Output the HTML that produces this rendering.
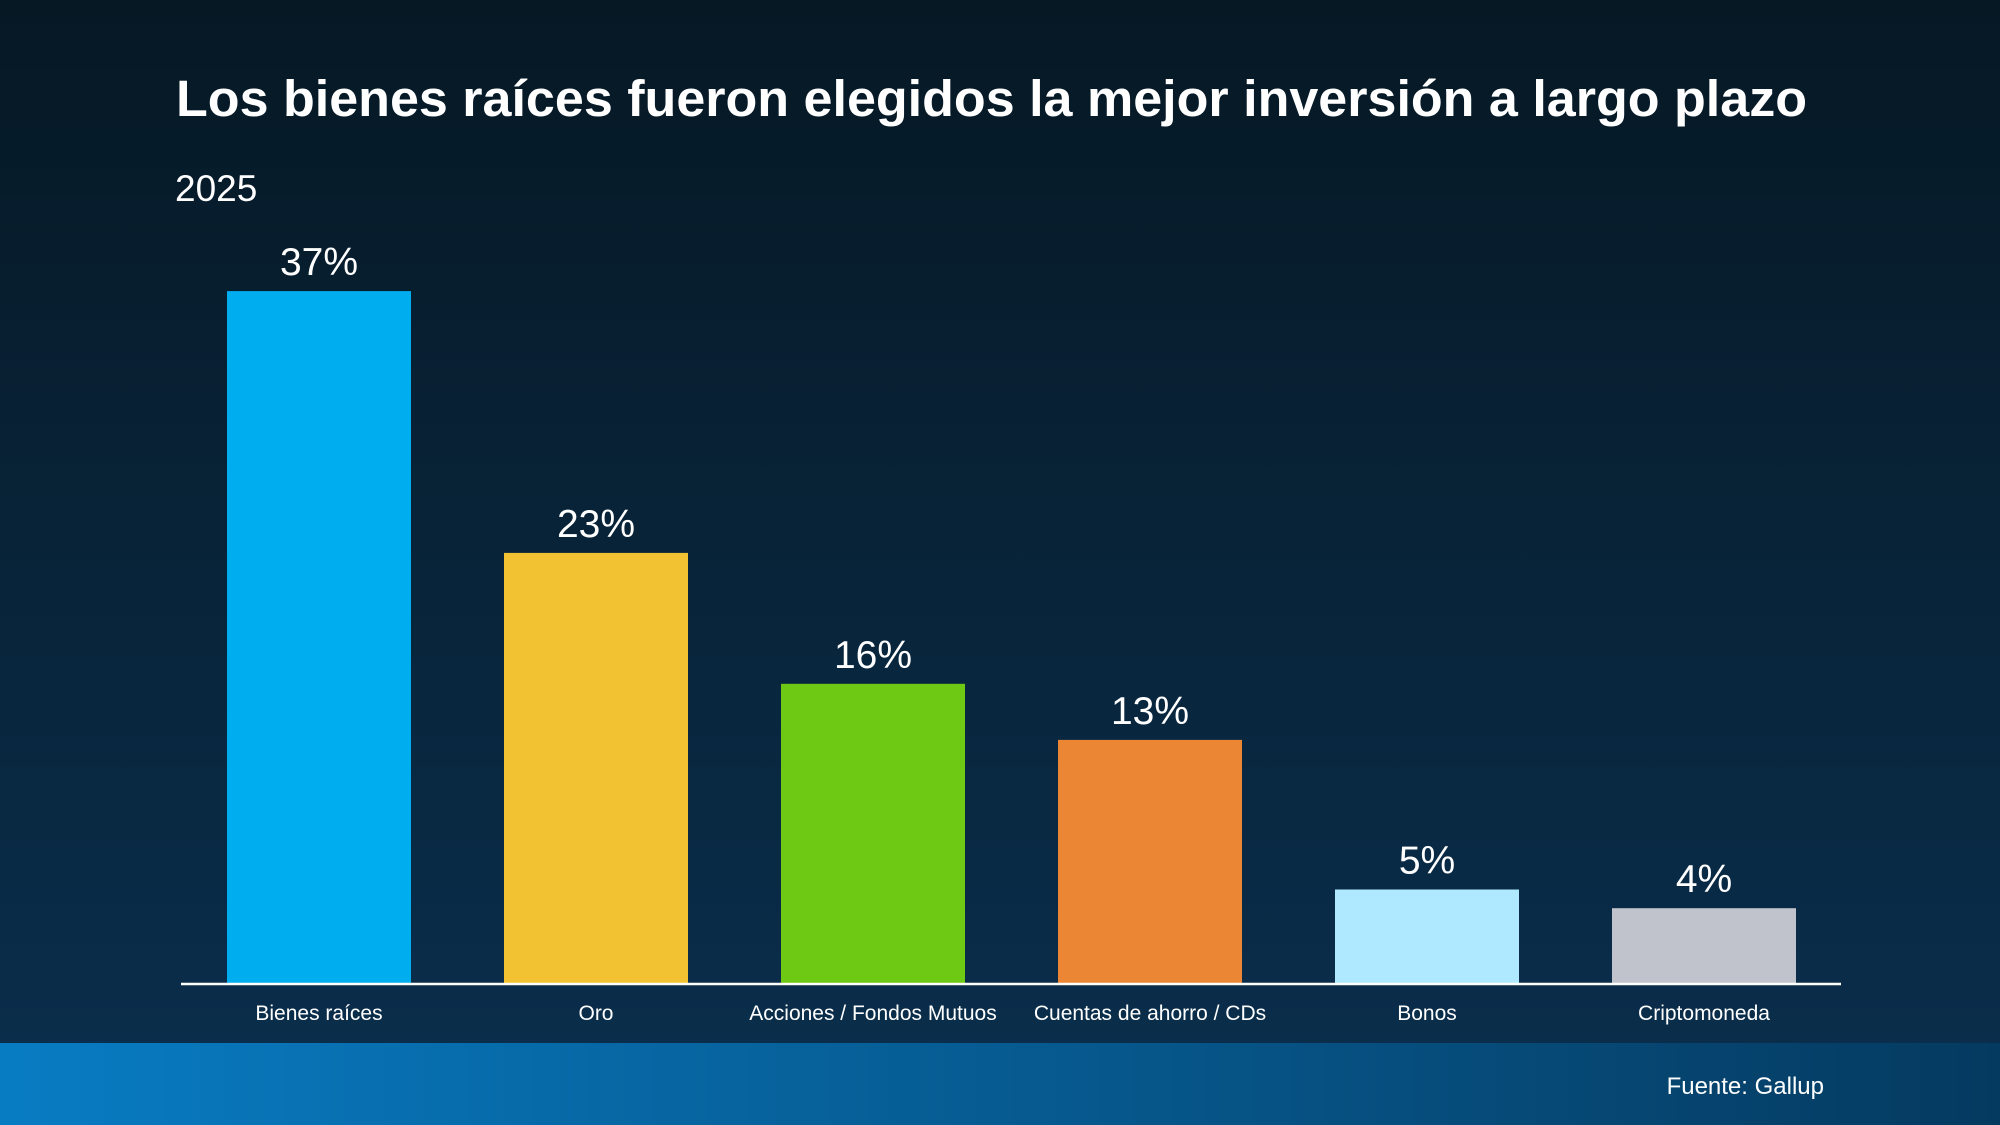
<!DOCTYPE html>
<html><head><meta charset="utf-8"><style>
html,body{margin:0;padding:0;width:2000px;height:1125px;overflow:hidden;font-family:"Liberation Sans",sans-serif}
</style></head><body>
<svg id="chart" width="2000" height="1125" viewBox="0 0 2000 1125" xmlns="http://www.w3.org/2000/svg">
<defs>
<linearGradient id="bg" x1="0" y1="0" x2="0" y2="1"><stop offset="0" stop-color="#061824"/><stop offset="1" stop-color="#0a2f4e"/></linearGradient>
<linearGradient id="ft" x1="0" y1="0" x2="1" y2="0"><stop offset="0" stop-color="#087cc3"/><stop offset="1" stop-color="#053a60"/></linearGradient>
</defs>
<rect width="2000" height="1125" fill="url(#bg)"/>
<rect x="0" y="1043" width="2000" height="82" fill="url(#ft)"/>
<text x="176" y="116" font-size="51" font-weight="bold" fill="#fff" textLength="1631" lengthAdjust="spacingAndGlyphs">Los bienes raíces fueron elegidos la mejor inversión a largo plazo</text>
<text x="175" y="201" font-size="37" fill="#fff">2025</text>
<text x="1824" y="1094" font-size="24" fill="#fff" text-anchor="end">Fuente: Gallup</text>
<g id="bars"></g>
<line x1="181" y1="984" x2="1841" y2="984" stroke="#fff" stroke-width="2.5"/>
</svg>
<script>
const categories = ["Bienes raíces","Oro","Acciones / Fondos Mutuos","Cuentas de ahorro / CDs","Bonos","Criptomoneda"];
const values = [37,23,16,13,5,4];
const valueLabels = ["37%","23%","16%","13%","5%","4%"];
const colors = ["#00adef","#f2c232","#6dc913","#ea8634","#aee9ff","#c0c3cb"];
const NS="http://www.w3.org/2000/svg";
const g=document.getElementById('bars');
const baseY=983, pxPer=18.7, x0=227, step=277, bw=184;
function xPos(i){return x0+i*step;}
function yPos(v){return baseY-v*pxPer;}
categories.forEach((c,i)=>{
  const r=document.createElementNS(NS,'rect');
  
  
  r.setAttribute('x',xPos(i));r.setAttribute('y',yPos(values[i]));
  r.setAttribute('width',bw);r.setAttribute('height',baseY-yPos(values[i]));
  r.setAttribute('fill',colors[i]);g.appendChild(r);
  const t=document.createElementNS(NS,'text');
  
  
  t.setAttribute('x',xPos(i)+bw/2);t.setAttribute('y',yPos(values[i])-16);
  t.setAttribute('text-anchor','middle');t.setAttribute('font-size','39');t.setAttribute('fill','#fff');
  t.textContent=valueLabels[i];g.appendChild(t);
  const l=document.createElementNS(NS,'text');
  
  
  l.setAttribute('x',xPos(i)+bw/2);l.setAttribute('y',1020);
  l.setAttribute('text-anchor','middle');l.setAttribute('font-size','21');l.setAttribute('fill','#fff');
  l.textContent=c;g.appendChild(l);
});
</script>
</body></html>
